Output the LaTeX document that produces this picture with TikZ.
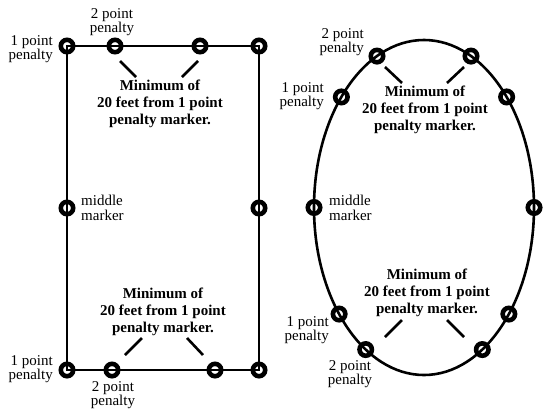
\documentclass[tikz,border=0pt]{standalone}
\usepackage{fontspec}
\setmainfont{Liberation Serif}
\begin{document}
\begin{tikzpicture}[x=1pt,y=-1pt,
 lbl/.style={font=\fontsize{15}{14.5}\selectfont, inner sep=0pt, align=center},
 lblr/.style={lbl, align=right, anchor=east},
 lbll/.style={lbl, align=left, anchor=west},
 blbl/.style={font=\fontsize{15}{16.8}\selectfont\bfseries, inner sep=0pt, align=center},
 mk/.style={circle, draw, line width=4.6pt, minimum size=12.4pt, inner sep=0pt},
 edge/.style={line width=2.6pt},
 tick/.style={line width=2.6pt}]
\path[use as bounding box] (0,0) rectangle (543,410);
% rectangle markers
\node[mk] (tl) at (67,46) {};
\node[mk] (t1) at (115,46) {};
\node[mk] (t2) at (200,46) {};
\node[mk] (tr) at (259,46) {};
\node[mk] (ml) at (67,208) {};
\node[mk] (mr) at (259,208) {};
\node[mk] (bl) at (67,370) {};
\node[mk] (b1) at (112,370) {};
\node[mk] (b2) at (215,370) {};
\node[mk] (br) at (259,370) {};
\draw[edge] (tl.center) -- (tr.center) -- (br.center) -- (bl.center) -- cycle;
% ellipse
\draw[edge] (424,207.5) ellipse [x radius=110pt, y radius=167.5pt];
\foreach \n/\a in {e1/138.7, e2/115.3, e3/64.7, e4/41.3, e5/180, e6/0, e7/219.5, e8/238, e9/302, e10/320.5}
  \node[mk] (\n) at ({424+110*cos(\a)},{207.5-167.5*sin(\a)}) {};
% rectangle labels
\node[lbl] (lt2) at (112,22) {2 point\\penalty};
\node[lblr] (lt1) at (53,49) {1 point\\penalty};
\node[blbl] (mt) at (160,104) {Minimum of\\20 feet from 1 point\\penalty marker.};
\draw[tick] (120,61) -- (136,77);
\draw[tick] (198,61) -- (182,77);
\node[lbll] (lm) at (81,208) {middle\\marker};
\node[blbl] (mb) at (163,312) {Minimum of\\20 feet from 1 point\\penalty marker.};
\draw[tick] (142,338) -- (125,355);
\draw[tick] (187,338) -- (203,355);
\node[lblr] (lb1) at (53,369) {1 point\\penalty};
\node[lbl] (lb2) at (113,395) {2 point\\penalty};
% ellipse labels
\node[lblr] (et2) at (364,42) {2 point\\penalty};
\node[lblr] (et1) at (324,96) {1 point\\penalty};
\node[blbl] (emt) at (425,110) {Minimum of\\20 feet from 1 point\\penalty marker.};
\draw[tick] (385,67) -- (402,83);
\draw[tick] (464,67) -- (447,83);
\node[lbll] (em) at (329,208) {middle\\marker};
\node[blbl] (emb) at (427,293) {Minimum of\\20 feet from 1 point\\penalty marker.};
\draw[tick] (402,320) -- (385,337);
\draw[tick] (447,320) -- (464,337);
\node[lblr] (eb1) at (329,330) {1 point\\penalty};
\node[lbl] (eb2) at (350,374) {2 point\\penalty};
\end{tikzpicture}
\end{document}
